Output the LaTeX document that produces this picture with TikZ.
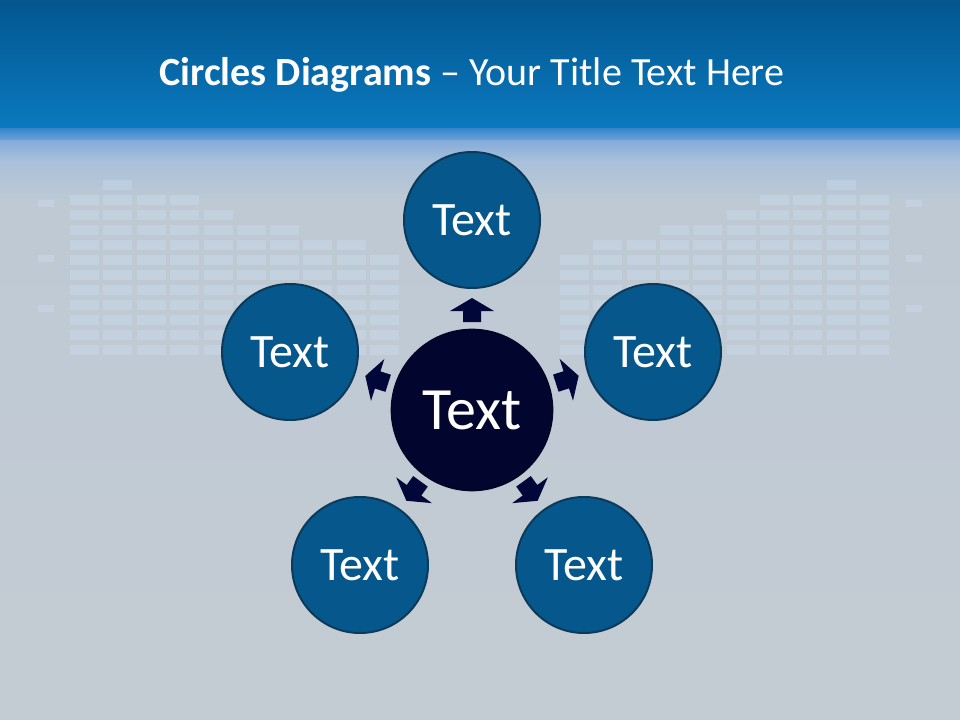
\documentclass[tikz,border=0pt]{standalone}
\usepackage{fontspec}
\setmainfont{Carlito}
\usetikzlibrary{calc}
\definecolor{bartop}{HTML}{03568F}
\definecolor{barbot}{HTML}{0A79BF}
\definecolor{skyA}{HTML}{6E9FDA}
\definecolor{skyB}{HTML}{A9C0DA}
\definecolor{greyA}{HTML}{BEC9D4}
\definecolor{greyB}{HTML}{C4CCD3}
\definecolor{outerfill}{HTML}{06578C}
\definecolor{outerline}{HTML}{0B3A5A}
\definecolor{centerfill}{HTML}{02062E}
\definecolor{arrowfill}{HTML}{02073A}
\definecolor{windowc}{HTML}{D2E6FA}
\tikzset{
  outer/.style={circle, fill=outerfill, draw=outerline, line width=1.5pt,
    minimum size=102pt, inner sep=0pt, text=white, font=\fontsize{36}{38}\selectfont},
  centre/.style={circle, fill=centerfill, draw=centerfill!80!black, line width=1pt,
    minimum size=121pt, inner sep=0pt, text=white, font=\fontsize{45}{47}\selectfont},
  window/.style={fill=windowc, fill opacity=0.28},
  blockarrow/.pic={\fill[arrowfill] (-12,-9) -- (-1,-9) -- (-1,-22) -- (12,0) -- (-1,22) -- (-1,9) -- (-12,9) -- cycle;}
}
\begin{document}
\begin{tikzpicture}[x=0.75pt,y=-0.75pt]
\useasboundingbox (0,0) rectangle (960,720);
% background
\fill[greyB] (0,0) rectangle (960,720);
\shade[top color=greyA, bottom color=greyB] (0,200) rectangle (960,720);
\shade[top color=skyB, bottom color=greyA] (0,160) rectangle (960,201);
\shade[top color=skyA, bottom color=skyB] (0,128) rectangle (960,161);
% window grid texture
\foreach \x/\t in {70/185,103/165,137/180,170/190,204/200,237/210,270/215,303/225,337/230,370/240}{
  \foreach \y in {180,195,...,355}{
    \ifnum\y>\t\relax \fill[window] (\x,\y) rectangle ++(29,10);\fi
  }
}
\foreach \x/\t in {560/240,593/230,627/225,660/215,693/210,727/200,760/190,793/180,827/165,860/185}{
  \foreach \y in {180,195,...,355}{
    \ifnum\y>\t\relax \fill[window] (\x,\y) rectangle ++(29,10);\fi
  }
}
\foreach \y in {200,255,305}{
  \fill[window] (38,\y) rectangle ++(16,7);
  \fill[window] (906,\y) rectangle ++(16,7);
}
\shade[top color=barbot!60!skyA, bottom color=skyA] (0,128) rectangle (960,140);
\shade[top color=bartop, bottom color=barbot] (0,0) rectangle (960,128);
% title
\node[text=white, font=\fontsize{30}{34}\selectfont] (title) at (472,75) {\textbf{Circles Diagrams} – Your Title Text Here};
% circles
\node[centre] (c) at (472,410) {Text};
\node[outer] (t) at (472,220) {Text};
\node[outer] (l) at (290,352) {Text};
\node[outer] (r) at (653,352) {Text};
\node[outer] (bl) at (360,565) {Text};
\node[outer] (br) at (584,565) {Text};
% arrows
\path let \p1=($(t)-(c)$), \n1={atan2(\y1,\x1)} in pic[rotate=\n1] at ($(c)!75pt!(t)$) {blockarrow};
\path let \p1=($(l)-(c)$), \n1={atan2(\y1,\x1)} in pic[rotate=\n1] at ($(c)!75pt!(l)$) {blockarrow};
\path let \p1=($(r)-(c)$), \n1={atan2(\y1,\x1)} in pic[rotate=\n1] at ($(c)!75pt!(r)$) {blockarrow};
\path let \p1=($(bl)-(c)$), \n1={atan2(\y1,\x1)} in pic[rotate=\n1] at ($(c)!75pt!(bl)$) {blockarrow};
\path let \p1=($(br)-(c)$), \n1={atan2(\y1,\x1)} in pic[rotate=\n1] at ($(c)!75pt!(br)$) {blockarrow};
\end{tikzpicture}
\end{document}
